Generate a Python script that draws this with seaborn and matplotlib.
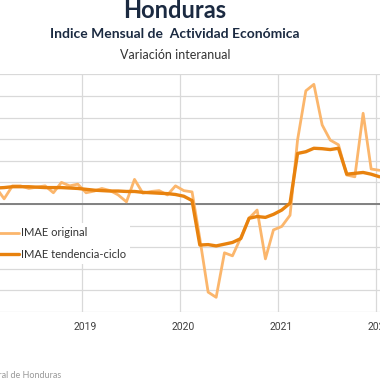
import numpy as np
import pandas as pd
import matplotlib
matplotlib.use("Agg")
import matplotlib.pyplot as plt
import matplotlib.transforms as mtransforms
import seaborn as sns

# IMAE Honduras, variacion interanual (%), ene-2018 .. ene-2022
fechas = pd.date_range("2018-01-01", periods=49, freq="MS") + pd.Timedelta(days=14)

imae_original = [
    4.0, 3.6, 1.2, 4.2, 4.2, 3.6, 3.9, 4.2, 2.6, 5.0, 4.2, 4.6,
    2.6, 3.0, 3.6, 3.1, 2.1, 0.5, 5.7, 2.5, 2.9, 3.1, 2.1, 4.2,
    3.1, 2.8, -8.0, -20.4, -21.6, -11.3, -12.0, -7.8, -3.3, -1.4, -12.7, -6.0,
    -5.2, -2.6, 14.8, 26.2, 27.7, 18.3, 14.8, 13.7, 6.7, 6.3, 21.0, 8.1,
    7.8,
]
imae_tendencia = [
    3.8, 3.7, 3.8, 4.0, 4.0, 4.0, 3.9, 3.8, 3.8, 3.8, 3.7, 3.6,
    3.4, 3.2, 3.1, 3.0, 3.0, 2.9, 2.9, 2.7, 2.6, 2.5, 2.4, 2.2,
    1.8, 0.8, -9.5, -9.4, -9.7, -9.3, -8.9, -8.0, -3.3, -2.9, -3.1, -2.4,
    -1.4, 0.2, 11.7, 12.1, 12.9, 12.8, 12.6, 12.9, 6.9, 7.1, 7.3, 6.9,
    6.3,
]
series = ["IMAE original", "IMAE tendencia-ciclo"]
colores = {"IMAE original": "#FBB66C", "IMAE tendencia-ciclo": "#E8820E"}
anios = [2019, 2020, 2021, 2022]

df = pd.DataFrame({
    "fecha": list(fechas) * 2,
    "valor": imae_original + imae_tendencia,
    "serie": [series[0]] * len(fechas) + [series[1]] * len(fechas),
})

sns.set_theme(style="white")
plt.rcParams["font.family"] = ["Lato", "DejaVu Sans"]

fig = plt.figure(figsize=(3.8, 3.8), dpi=100)
# plot area is wider than the picture (chart was cropped on both sides)
ax = fig.add_axes([-15.4 / 380, 68 / 380, 406.9 / 380, 237.6 / 380])

sns.lineplot(data=df[df.serie == series[0]], x="fecha", y="valor",
             color=colores[series[0]], linewidth=2.0, label=series[0], ax=ax)
sns.lineplot(data=df[df.serie == series[1]], x="fecha", y="valor",
             color=colores[series[1]], linewidth=2.4, label=series[1], ax=ax)

ax.set_xlim(pd.Timestamp("2018-01-01"), pd.Timestamp("2022-03-01"))
ax.set_ylim(-25, 30)
ax.set_yticks(np.arange(-25, 31, 5))
ax.set_yticklabels([])
ax.set_xticks([pd.Timestamp(f"{a}-01-01") for a in anios])
ax.set_xticklabels([str(a) for a in anios], fontsize=7.5, color="#404040",
                   family="Roboto")
ax.tick_params(axis="both", length=0, pad=7)
offset = mtransforms.ScaledTranslation(3 / 100, 0, fig.dpi_scale_trans)
for lab in ax.get_xticklabels():
    lab.set_transform(lab.get_transform() + offset)

ax.grid(True, axis="both", color="#d9d9d9", linewidth=0.9)
ax.axhline(0, color="#808080", linewidth=1.4, zorder=1.5)
for s in ax.spines.values():
    s.set_visible(False)
ax.set_xlabel("")
ax.set_ylabel("")

leg = ax.legend(loc="upper left", bbox_to_anchor=(-8 / 380, 1 - 223 / 380),
                bbox_transform=fig.transFigure, fontsize=8, frameon=True,
                facecolor="white", edgecolor="none", framealpha=1,
                borderaxespad=0, borderpad=0.4, handlelength=2.0,
                handletextpad=0.2, labelspacing=0.95, fancybox=False)
for t in leg.get_texts():
    t.set_color("#333333")

fig.text(175 / 380, 1 - 11 / 380, "Honduras", ha="center", va="center",
         fontsize=17, fontweight="bold", color="#1B2A41")
fig.text(175 / 380, 1 - 34 / 380, "Indice Mensual de  Actividad Económica",
         ha="center", va="center", fontsize=10, fontweight="bold",
         color="#1B2A41")
fig.text(175 / 380, 1 - 55 / 380, "Variación interanual", ha="center",
         va="center", fontsize=9, color="#333333")
fig.text(61 / 380, 1 - 375 / 380, "Fuente: Banco Central de Honduras",
         ha="right", va="center", fontsize=6.5, color="#9a9a9a")

fig.savefig("out.png", dpi=100, facecolor="white")
